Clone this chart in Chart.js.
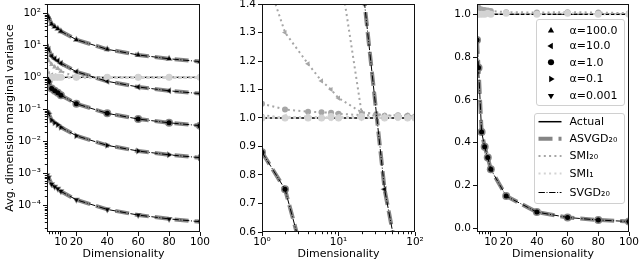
<!DOCTYPE html>
<html><head><meta charset="utf-8">
<script src="https://cdn.jsdelivr.net/npm/chart.js@4/dist/chart.umd.min.js"></script>
<style>
html,body{margin:0;padding:0;background:#fff;}
#wrap{position:relative;width:640px;height:264px;overflow:hidden;background:#fff;}
.p{position:absolute;top:0;height:264px;}
</style></head><body>
<div id="wrap">
<div class="p" style="left:0;width:215px"><canvas id="c1" width="215" height="264"></canvas></div>
<div class="p" style="left:215px;width:215px"><canvas id="c2" width="215" height="264"></canvas></div>
<div class="p" style="left:430px;width:210px"><canvas id="c3" width="210" height="264"></canvas></div>
</div>
<script>
// ---------------- data ----------------
const dims = [1, 2, 4, 6, 8, 10, 20, 40, 60, 80, 100];
const alphaLabels = ['α=100.0', 'α=10.0', 'α=1.0', 'α=0.1', 'α=0.001'];
const seriesLabels = ['Actual', 'ASVGD₂₀', 'SMI₂₀', 'SMI₁', 'SVGD₂₀'];

const actual = [1, 1, 1, 1, 1, 1, 1, 1, 1, 1, 1];

const svgd_a100  = [88, 75, 46, 38, 33, 27.5, 15, 7.5, 5.0, 3.8, 3.1];
const svgd_a10   = [8.8, 7.5, 4.6, 3.8, 3.3, 2.75, 1.5, 0.75, 0.50, 0.38, 0.31];
const svgd_a1    = [0.88, 0.75, 0.45, 0.38, 0.33, 0.275, 0.15, 0.075, 0.050, 0.038, 0.031];
const svgd_a01   = [0.088, 0.075, 0.046, 0.038, 0.033, 0.0275, 0.015, 0.0075, 0.0050, 0.0038, 0.0031];
const svgd_a0001 = [0.00088, 0.00075, 0.00046, 0.00038, 0.00033, 0.000275, 0.00015, 0.000075, 0.000050, 0.000038, 0.000031];

const asvgd_a100  = [88, 75, 46, 38, 33, 27.5, 15, 7.5, 5.0, 3.8, 3.1];
const asvgd_a10   = [8.8, 7.5, 4.6, 3.8, 3.3, 2.75, 1.5, 0.75, 0.50, 0.38, 0.31];
const asvgd_a1    = [0.88, 0.75, 0.45, 0.38, 0.33, 0.275, 0.15, 0.075, 0.050, 0.038, 0.031];
const asvgd_a01   = [0.088, 0.075, 0.046, 0.038, 0.033, 0.0275, 0.015, 0.0075, 0.0050, 0.0038, 0.0031];
const asvgd_a0001 = [0.00088, 0.00075, 0.00046, 0.00038, 0.00033, 0.000275, 0.00015, 0.000075, 0.000050, 0.000038, 0.000031];

const smi20_a100  = [6.0, 3.3, 2.5, 2.1, 1.9, 1.55, 1.02, 1.01, 1.0, 1.01, 1.0];
const smi20_a10   = [1.54, 1.30, 1.19, 1.13, 1.10, 1.07, 1.02, 1.01, 1.005, 1.01, 1.0];
const smi20_a1    = [1.05, 1.03, 1.022, 1.02, 1.018, 1.015, 1.01, 1.008, 1.01, 1.008, 1.005];
const smi20_a01   = [1.01, 1.0, 1.005, 1.0, 1.0, 1.0, 1.005, 1.0, 1.0, 1.0, 1.0];
const smi20_a0001 = [1.0, 1.0, 1.0, 1.0, 1.0, 1.0, 1.0, 1.0, 1.0, 1.0, 1.0];

const smi1_a100  = [1.0, 1.0, 1.005, 1.0, 1.0, 1.0, 1.0, 1.005, 1.0, 1.0, 1.0];
const smi1_a10   = [1.0, 1.005, 1.0, 1.0, 1.0, 1.005, 1.0, 1.0, 1.0, 1.005, 1.0];
const smi1_a1    = [1.0, 1.0, 1.0, 1.0, 1.005, 1.0, 1.005, 1.0, 1.005, 1.0, 1.0];
const smi1_a01   = [1.0, 1.0, 1.0, 1.0, 1.0, 1.0, 1.0, 1.0, 1.0, 1.0, 1.0];
const smi1_a0001 = [1.0, 1.0, 1.0, 1.0, 1.0, 1.0, 1.0, 1.0, 1.0, 1.0, 1.0];

// tick labels
const linXTicks = [10, 20, 40, 60, 80, 100];
const linXTickLabels = ['10', '20', '40', '60', '80', '100'];
const leftYTicks = [1e-4, 1e-3, 1e-2, 1e-1, 1, 10, 100];
const leftYTickLabels = ['10⁻⁴', '10⁻³', '10⁻²', '10⁻¹', '10⁰', '10¹', '10²'];
const midXTicks = [1, 10, 100];
const midXTickLabels = ['10⁰', '10¹', '10²'];
const midYTicks = [0.6, 0.7, 0.8, 0.9, 1.0, 1.1, 1.2, 1.3, 1.4];
const midYTickLabels = ['0.6', '0.7', '0.8', '0.9', '1.0', '1.1', '1.2', '1.3', '1.4'];
const rightYTicks = [0, 0.2, 0.4, 0.6, 0.8, 1.0];
const rightYTickLabels = ['0.0', '0.2', '0.4', '0.6', '0.8', '1.0'];

// ---------------- styling ----------------
const FONT = 'DejaVu Sans';
Chart.defaults.font.family = FONT;
Chart.defaults.font.size = 10.5;
Chart.defaults.color = '#000';

const SVGD = [svgd_a100, svgd_a10, svgd_a1, svgd_a01, svgd_a0001];
const ASVGD = [asvgd_a100, asvgd_a10, asvgd_a1, asvgd_a01, asvgd_a0001];
const SMI20 = [smi20_a100, smi20_a10, smi20_a1, smi20_a01, smi20_a0001];
const SMI1 = [smi1_a100, smi1_a10, smi1_a1, smi1_a01, smi1_a0001];
const markers = [
  {style: 'triangle', rot: 0},
  {style: 'triangle', rot: -90},
  {style: 'circle', rot: 0},
  {style: 'triangle', rot: 90},
  {style: 'triangle', rot: 180}
];
const C_ASVGD = 'rgba(120,120,120,0.9)';
const C_SMI20 = '#a6a6a6';
const C_SMI1 = '#d3d3d3';
const DASH_ASVGD = [14, 6];
const DASH_DOT = [2, 3.3];
const DASH_SVGD = [6.4, 1.6, 1, 1.6];

function pts(vals) { return dims.map((d, i) => ({x: d, y: vals[i]})); }

function makeSets(idxs) {
  const sets = [];
  sets.push({label: 'Actual', data: pts(actual), borderColor: '#000', borderWidth: 1.3,
    pointRadius: 0, order: 6, clip: 0, tension: 0});
  idxs.forEach(i => {
    const m = markers[i];
    sets.push({label: 'ASVGD ' + alphaLabels[i], data: pts(ASVGD[i]), borderColor: C_ASVGD, borderWidth: 4,
      borderDash: DASH_ASVGD, borderCapStyle: 'butt', pointStyle: m.style, pointRotation: m.rot, pointRadius: 4,
      pointBackgroundColor: C_ASVGD, pointBorderColor: C_ASVGD, pointBorderWidth: 0, order: 5, clip: 0, tension: 0});
    sets.push({label: 'SMI20 ' + alphaLabels[i], data: pts(SMI20[i]), borderColor: C_SMI20, borderWidth: 2,
      borderDash: DASH_DOT, pointStyle: m.style, pointRotation: m.rot, pointRadius: 3,
      pointBackgroundColor: C_SMI20, pointBorderColor: C_SMI20, pointBorderWidth: 0, order: 4, clip: 0, tension: 0});
    sets.push({label: 'SMI1 ' + alphaLabels[i], data: pts(SMI1[i]), borderColor: C_SMI1, borderWidth: 2,
      borderDash: DASH_DOT, pointStyle: m.style, pointRotation: m.rot, pointRadius: 3.5,
      pointBackgroundColor: C_SMI1, pointBorderColor: C_SMI1, pointBorderWidth: 0, order: 3, clip: 0, tension: 0});
    sets.push({label: 'SVGD ' + alphaLabels[i], data: pts(SVGD[i]), borderColor: '#000', borderWidth: 1,
      borderDash: DASH_SVGD, pointStyle: m.style, pointRotation: m.rot, pointRadius: 2.5,
      pointBackgroundColor: '#000', pointBorderColor: '#000', pointBorderWidth: 0, order: 1, clip: 0, tension: 0});
  });
  return sets;
}

const frameMinor = {
  id: 'frameMinor',
  afterDatasetsDraw(chart, args, opts) {
    const {ctx, chartArea: a} = chart;
    const xs = chart.scales.x, ys = chart.scales.y;
    ctx.save();
    ctx.strokeStyle = '#111';
    ctx.lineWidth = 1;
    ctx.beginPath();
    (opts.minorX || []).forEach(v => {
      const p = Math.round(xs.getPixelForValue(v)) + 0.5;
      ctx.moveTo(p, a.bottom); ctx.lineTo(p, a.bottom + 2.2);
    });
    (opts.minorY || []).forEach(v => {
      const p = Math.round(ys.getPixelForValue(v)) + 0.5;
      ctx.moveTo(a.left, p); ctx.lineTo(a.left - 2.2, p);
    });
    ctx.stroke();
    ctx.strokeRect(Math.round(a.left) + 0.5, Math.round(a.top) + 0.5,
      Math.round(a.right) - Math.round(a.left) - 1, Math.round(a.bottom) - Math.round(a.top) - 1);
    ctx.restore();
  }
};

function drawMarker(ctx, style, rot, x, y, r) {
  ctx.save();
  ctx.translate(x, y);
  ctx.rotate(rot * Math.PI / 180);
  ctx.beginPath();
  if (style === 'circle') ctx.arc(0, 0, r * 0.85, 0, 2 * Math.PI);
  else { ctx.moveTo(0, -r); ctx.lineTo(r * 0.87, r * 0.5); ctx.lineTo(-r * 0.87, r * 0.5); ctx.closePath(); }
  ctx.fill();
  ctx.restore();
}
function roundBox(ctx, x, y, w, h, r) {
  ctx.beginPath();
  ctx.moveTo(x + r, y); ctx.lineTo(x + w - r, y); ctx.arcTo(x + w, y, x + w, y + r, r);
  ctx.lineTo(x + w, y + h - r); ctx.arcTo(x + w, y + h, x + w - r, y + h, r);
  ctx.lineTo(x + r, y + h); ctx.arcTo(x, y + h, x, y + h - r, r);
  ctx.lineTo(x, y + r); ctx.arcTo(x, y, x + r, y, r);
  ctx.closePath();
  ctx.fillStyle = 'rgba(255,255,255,0.85)';
  ctx.fill();
  ctx.strokeStyle = '#d0d0d0';
  ctx.lineWidth = 1;
  ctx.stroke();
}

const legendPlugin = {
  id: 'twoLegends',
  afterDraw(chart) {
    const ctx = chart.ctx;
    ctx.save();
    roundBox(ctx, 106.5, 19.5, 88, 86, 2.5);
    const rows1 = [30.7, 46, 62.3, 79, 95.7];
    ctx.font = '11px ' + FONT;
    ctx.textBaseline = 'middle';
    alphaLabels.forEach((lab, i) => {
      ctx.fillStyle = '#000';
      drawMarker(ctx, markers[i].style, markers[i].rot, 121, rows1[i], 3.6);
      ctx.fillText(lab, 139.5, rows1[i] + 0.5);
    });
    roundBox(ctx, 104.5, 113.5, 90, 90, 2.5);
    const rows2 = [121.7, 138.7, 156, 173.5, 192.5];
    const hs = [
      {c: '#000', w: 1.5, d: []},
      {c: C_ASVGD, w: 4, d: DASH_ASVGD},
      {c: C_SMI20, w: 2, d: DASH_DOT},
      {c: C_SMI1, w: 2, d: DASH_DOT},
      {c: '#000', w: 1, d: DASH_SVGD}
    ];
    seriesLabels.forEach((lab, i) => {
      ctx.save();
      ctx.strokeStyle = hs[i].c; ctx.lineWidth = hs[i].w; ctx.setLineDash(hs[i].d); ctx.lineCap = 'butt';
      ctx.beginPath(); ctx.moveTo(108.5, rows2[i]); ctx.lineTo(131.5, rows2[i]); ctx.stroke();
      ctx.restore();
      ctx.fillStyle = '#000';
      ctx.fillText(lab, 139.5, rows2[i] + 0.5);
    });
    ctx.restore();
  }
};

function axisX(type, min, max, ticks, labels, h) {
  return {
    type, min, max,
    afterBuildTicks: s => { s.ticks = ticks.map(v => ({value: v})); },
    afterFit: s => { s.height = h; s.paddingLeft = 0; s.paddingRight = 0; },
    ticks: {callback: (v, i) => labels[i], autoSkip: false, maxRotation: 0, minRotation: 0, padding: 0,
      font: {size: 10.5}, color: '#000'},
    grid: {display: true, drawOnChartArea: false, drawTicks: true, tickLength: 4, tickWidth: 1, tickColor: '#111'},
    border: {display: false},
    title: {display: true, text: 'Dimensionality', font: {size: 11}, color: '#000', padding: {top: 0, bottom: 3}}
  };
}
function axisY(type, min, max, ticks, labels, w, title) {
  const ax = {
    type, min, max,
    afterBuildTicks: s => { s.ticks = ticks.map(v => ({value: v})); },
    afterFit: s => { s.width = w; s.paddingTop = 0; s.paddingBottom = 0; },
    ticks: {callback: (v, i) => labels[i], autoSkip: false, padding: 2, font: {size: 10.5}, color: '#000'},
    grid: {display: true, drawOnChartArea: false, drawTicks: true, tickLength: 4, tickWidth: 1, tickColor: '#111'},
    border: {display: false},
    title: {display: false}
  };
  if (title) ax.title = {display: true, text: title, font: {size: 11}, color: '#000', padding: {top: 3.5, bottom: 0}};
  return ax;
}

function logMinor(lo, hi) {
  const out = [];
  for (let e = lo; e <= hi; e++) for (let k = 2; k <= 9; k++) out.push(k * Math.pow(10, e));
  return out;
}

function makeChart(id, sets, scales, pad, minor, extraPlugins) {
  return new Chart(document.getElementById(id), {
    type: 'line',
    data: {datasets: sets},
    options: {
      responsive: false, animation: false, events: [],
      layout: {padding: pad},
      plugins: {legend: {display: false}, tooltip: {enabled: false}, frameMinor: minor},
      scales
    },
    plugins: [frameMinor].concat(extraPlugins || [])
  });
}

// Left panel
makeChart('c1', makeSets([0, 1, 2, 3, 4]), {
  x: axisX('linear', 1, 100, linXTicks, linXTickLabels, 32),
  y: axisY('logarithmic', Math.pow(10, -4.83), Math.pow(10, 2.29), leftYTicks, leftYTickLabels, 47,
    'Avg. dimension marginal variance')
}, {left: 0, top: 4, right: 15, bottom: 0}, {minorX: [2, 4, 6, 8], minorY: logMinor(-5, 2)});

// Middle panel
makeChart('c2', makeSets([0, 1, 2, 3, 4]), {
  x: axisX('logarithmic', 1, 100, midXTicks, midXTickLabels, 32),
  y: axisY('linear', 0.6, 1.4, midYTicks, midYTickLabels, 47, null)
}, {left: 0, top: 4, right: 15, bottom: 0}, {minorX: logMinor(0, 1), minorY: []});

// Right panel
makeChart('c3', makeSets([2]), {
  x: axisX('linear', 1, 100, linXTicks, linXTickLabels, 32),
  y: axisY('linear', -0.018, 1.048, rightYTicks, rightYTickLabels, 47, null)
}, {left: 0, top: 4, right: 11, bottom: 0}, {minorX: [2, 4, 6, 8], minorY: []}, [legendPlugin]);
</script>
</body></html>
